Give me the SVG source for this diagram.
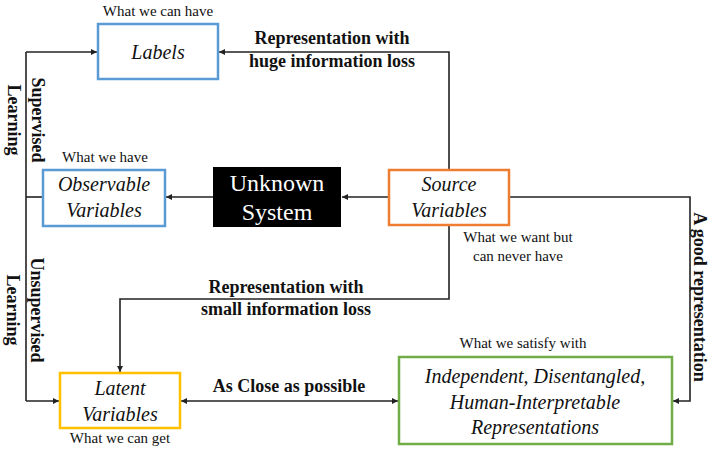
<svg xmlns="http://www.w3.org/2000/svg" width="709" height="450" viewBox="0 0 709 450">
<style>
.box{fill:#fff;stroke-width:2.5}
.it{font-family:"Liberation Serif",serif;font-style:italic;font-size:20px;fill:#111;text-anchor:middle}
.note{font-family:"Liberation Serif",serif;font-size:15px;fill:#111;text-anchor:middle}
.bold{font-family:"Liberation Serif",serif;font-weight:bold;font-size:18px;fill:#111;text-anchor:middle}
.ln{fill:none;stroke:#222;stroke-width:1.6}
</style>
<defs>
<marker id="ah" viewBox="0 0 10 10" refX="10" refY="5" markerWidth="7" markerHeight="6" markerUnits="userSpaceOnUse" orient="auto-start-reverse">
<path d="M0,0 L10,5 L0,10 z" fill="#222"/>
</marker>
</defs>
<rect width="709" height="450" fill="#fff"/>
<g id="connectors">
<path class="ln" d="M26,52 V401"/>
<path class="ln" d="M26,52 H97" marker-end="url(#ah)"/>
<path class="ln" d="M26,197 H43"/>
<path class="ln" d="M26,401 H59" marker-end="url(#ah)"/>
<path class="ln" d="M449,170 V52 H219" marker-end="url(#ah)"/>
<path class="ln" d="M389,197 H342" marker-end="url(#ah)"/>
<path class="ln" d="M213,197 H166" marker-end="url(#ah)"/>
<path class="ln" d="M509,197 H690 V401 H673" marker-end="url(#ah)"/>
<path class="ln" d="M449,225 V299 H120 V372" marker-end="url(#ah)"/>
<path class="ln" d="M181,401 H398" marker-start="url(#ah)" marker-end="url(#ah)"/>
</g>
<g id="labels">
<rect class="box" x="98" y="24" width="120" height="55" stroke="#5B9BD5"/>
<text class="it" x="158" y="59">Labels</text>
<text class="note" x="158" y="16">What we can have</text>
</g>
<g id="observable">
<rect class="box" x="43" y="170" width="122" height="56" stroke="#5B9BD5"/>
<text class="it" x="104" y="191">Observable</text>
<text class="it" x="104" y="217">Variables</text>
<text class="note" x="105" y="162">What we have</text>
</g>
<g id="unknown">
<rect x="213" y="167" width="128" height="60" fill="#000"/>
<text x="277" y="191" font-family="Liberation Serif,serif" font-size="24" fill="#fff" text-anchor="middle">Unknown</text>
<text x="277" y="220" font-family="Liberation Serif,serif" font-size="24" fill="#fff" text-anchor="middle">System</text>
</g>
<g id="source">
<rect class="box" x="389" y="170" width="120" height="55" stroke="#ED7D31"/>
<text class="it" x="449" y="191">Source</text>
<text class="it" x="449" y="217">Variables</text>
<text class="note" x="518" y="242">What we want but</text>
<text class="note" x="518" y="261">can never have</text>
</g>
<g id="latent">
<rect class="box" x="60" y="373" width="120" height="55" stroke="#FFC000"/>
<text class="it" x="120" y="395">Latent</text>
<text class="it" x="120" y="421">Variables</text>
<text class="note" x="120" y="443">What we can get</text>
</g>
<g id="independent">
<rect class="box" x="399" y="357" width="273" height="87" stroke="#70AD47"/>
<text class="it" x="535" y="383">Independent, Disentangled,</text>
<text class="it" x="535" y="409">Human-Interpretable</text>
<text class="it" x="535" y="434">Representations</text>
<text class="note" x="523" y="348">What we satisfy with</text>
</g>
<g id="edge-labels">
<text class="bold" x="332" y="44">Representation with</text>
<text class="bold" x="332" y="67">huge information loss</text>
<text class="bold" x="286" y="293">Representation with</text>
<text class="bold" x="286" y="315">small information loss</text>
<text class="bold" x="289" y="392">As Close as possible</text>
<text class="bold" transform="translate(32,120) rotate(90)"><tspan x="0" y="0">Supervised</tspan><tspan x="0" y="24">Learning</tspan></text>
<text class="bold" transform="translate(31,310) rotate(90)"><tspan x="0" y="0">Unsupervised</tspan><tspan x="0" y="24">Learning</tspan></text>
<text class="bold" transform="translate(694,297) rotate(90)">A good representation</text>
</g>
</svg>
